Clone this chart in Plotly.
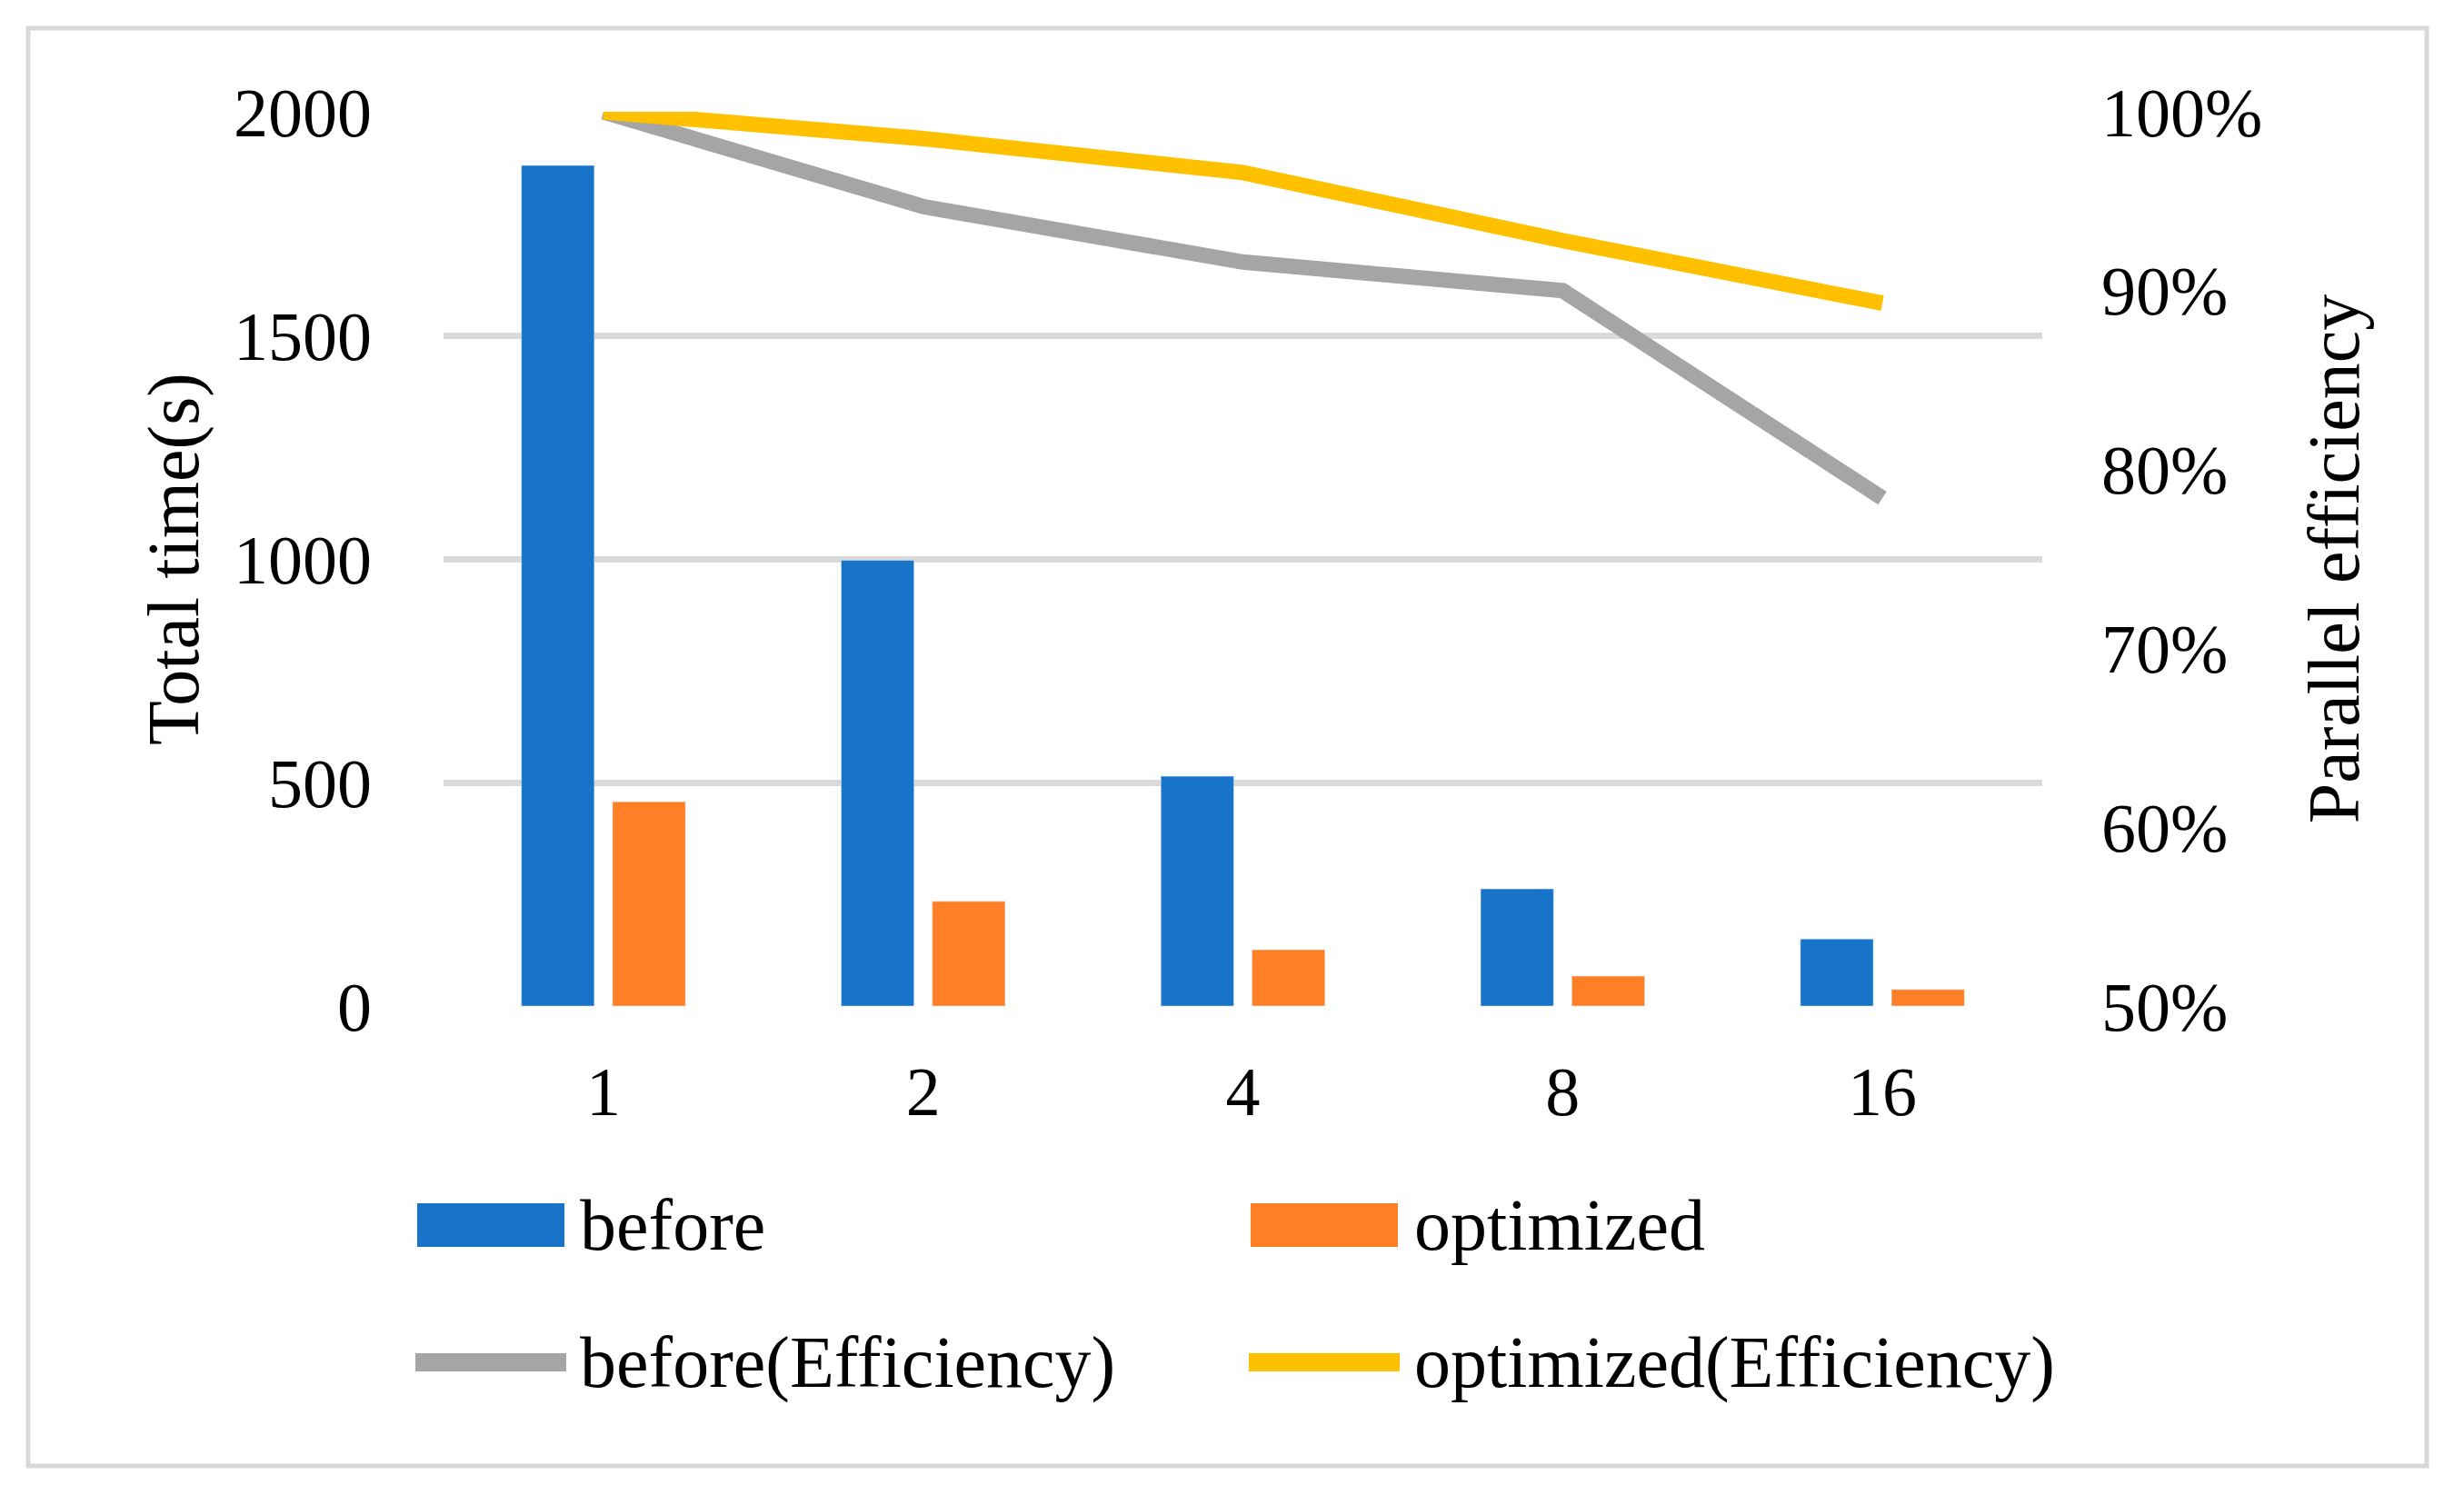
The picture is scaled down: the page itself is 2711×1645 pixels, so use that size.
import plotly.graph_objects as go

# thread counts on the x axis
threads = ["1", "2", "4", "8", "16"]

# total run time in seconds
time_before = [1880, 997, 514, 262, 150]
time_optimized = [457, 234, 126, 67, 37]

# parallel efficiency (fraction)
eff_before = [1.0, 0.947, 0.916, 0.900, 0.784]
eff_optimized = [1.0, 0.985, 0.966, 0.928, 0.893]

# the page body has an 8px margin, so the figure is a bit smaller than the window
OFF = 8
W, H = 2711 - 2 * OFF, 1645 - 2 * OFF
L, R, T, B = 488, 2247, 123, 1107  # plot area in window px

FONT = "Liberation Serif"
BLUE = "#1874C9"
ORANGE = "#FF7F27"
GREY = "#A5A5A5"
YELLOW = "#FFC000"
GRID = "#D9D9D9"

fig = go.Figure()

fig.add_trace(go.Bar(x=threads, y=time_before, name="before", marker_color=BLUE))
fig.add_trace(go.Bar(x=threads, y=time_optimized, name="optimized", marker_color=ORANGE))
fig.add_trace(go.Scatter(x=threads, y=eff_before, name="before(Efficiency)", yaxis="y2",
                         mode="lines", line=dict(color=GREY, width=17)))
fig.add_trace(go.Scatter(x=threads, y=eff_optimized, name="optimized(Efficiency)", yaxis="y2",
                         mode="lines", line=dict(color=YELLOW, width=17)))


def px_x(v):
    return (v - L) / (R - L)


def px_y(v):
    return (B - v) / (B - T)


# light grey frame around the whole chart
fig.add_shape(type="rect", xref="paper", yref="paper",
              x0=px_x(31), x1=px_x(2670), y0=px_y(31), y1=px_y(1613),
              line=dict(color=GRID, width=5), layer="below")

# legend drawn by hand, Excel style big keys
row_y = [1348, 1499]
col_x = [459, 1376]
text_x = [636, 1554]
for i, tr in enumerate(fig.data):
    r, c = divmod(i, 2)
    if tr.type == "bar":
        fig.add_shape(type="rect", xref="paper", yref="paper",
                      x0=px_x(col_x[c]), x1=px_x(col_x[c] + 162),
                      y0=px_y(row_y[r] - 24), y1=px_y(row_y[r] + 24),
                      fillcolor=tr.marker.color, line=dict(width=0))
    else:
        fig.add_shape(type="line", xref="paper", yref="paper",
                      x0=px_x(col_x[c] - 2), x1=px_x(col_x[c] + 164),
                      y0=px_y(row_y[r]), y1=px_y(row_y[r]),
                      line=dict(color=tr.line.color, width=20))
    fig.add_annotation(text=tr.name, xref="paper", yref="paper",
                       x=px_x(text_x[c]), y=px_y(row_y[r]), xanchor="left", yanchor="middle",
                       showarrow=False, font=dict(size=80))

fig.update_layout(
    width=W, height=H,
    margin=dict(l=L - OFF, r=W + OFF - R, t=T - OFF, b=H + OFF - B, pad=0),
    paper_bgcolor="white", plot_bgcolor="white",
    font=dict(family=FONT, size=76, color="black"),
    barmode="group", bargap=0.43, bargroupgap=0.2,
    xaxis=dict(type="category", showgrid=False, zeroline=False, showline=False,
               ticks="", ticklabelstandoff=43, tickfont=dict(size=76)),
    yaxis=dict(range=[0, 2000], dtick=500, showgrid=True, gridcolor=GRID, gridwidth=7,
               zeroline=False, showline=False, ticks="", ticklabelstandoff=78,
               tickfont=dict(size=76),
               title=dict(text="Total time(s)", font=dict(size=80), standoff=12)),
    yaxis2=dict(range=[0.5, 1.0], dtick=0.1, tickformat=".0%", overlaying="y", side="right",
                showgrid=False, zeroline=False, showline=False, ticks="", ticklabelstandoff=64,
                tickfont=dict(size=76),
                title=dict(text="Parallel efficiency", font=dict(size=80), standoff=50)),
    showlegend=False,
)

fig.write_html("out.html")
